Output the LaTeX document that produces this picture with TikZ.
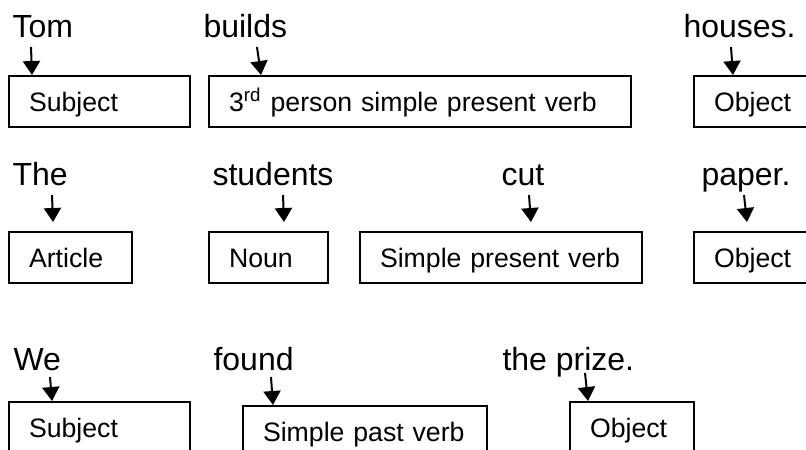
\documentclass[tikz,border=0pt]{standalone}
\usepackage{fontspec}
\setmainfont{Liberation Sans}
\usetikzlibrary{arrows.meta, calc}

\begin{document}
\begin{tikzpicture}[
  x=0.375pt, y=-0.375pt,
  word/.style={anchor=base west, inner sep=0pt, font=\fontsize{12}{14}\selectfont},
  tag/.style={draw, line width=0.75pt, anchor=north west, inner xsep=7.5pt, inner ysep=0pt,
    minimum height=19.125pt, text height=7.2pt, text depth=0pt, align=left,
    font=\fontsize{10}{12}\selectfont},
  arrow/.style={-{Triangle[length=5.25pt, width=6.4pt]}, line width=0.75pt}
]
\useasboundingbox (0,0) rectangle (806,449);
\clip (0,0) rectangle (806,449);

% Tom builds houses.
\node[word] (tom) at (12,37) {Tom};
\node[word] (builds) at (203,37) {builds};
\node[word] (houses) at (683,37) {houses.};

\node[tag, text width=52.875pt] (subj1) at (8,75) {Subject};
\node[tag, text width=143.25pt] (verb1) at (208,75) {3\textsuperscript{rd} person simple present verb};
\node[tag, text width=31.5pt] (obj1) at (693,75) {Object};

\coordinate (tom-a) at (31,47);
\coordinate (builds-a) at (257,47);
\coordinate (houses-a) at (731,47);
\draw[arrow] (tom-a) -- ($(subj1.north west)+(24,0)$);
\draw[arrow] (builds-a) -- ($(verb1.north west)+(53,0)$);
\draw[arrow] (houses-a) -- ($(obj1.north west)+(40,0)$);

% The students cut paper.
\node[word] (the) at (12,185) {The};
\node[word] (students) at (212,185) {students};
\node[word] (cut) at (501,185) {cut};
\node[word] (paper) at (701,185) {paper.};

\node[tag, text width=31.125pt] (art2) at (8,231) {Article};
\node[tag, text width=29.625pt] (noun2) at (208,231) {Noun};
\node[tag, text width=90.75pt] (verb2) at (359,231) {Simple present verb};
\node[tag, text width=31.5pt] (obj2) at (693,231) {Object};

\coordinate (the-a) at (52,195);
\coordinate (students-a) at (283,195);
\coordinate (cut-a) at (529,195);
\coordinate (paper-a) at (744,195);
\draw[arrow] (the-a) -- ($(art2.north west)+(45,-9)$);
\draw[arrow] (students-a) -- ($(noun2.north west)+(76,-9)$);
\draw[arrow] (cut-a) -- ($(verb2.north west)+(172,-9)$);
\draw[arrow] (paper-a) -- ($(obj2.north west)+(54,-9)$);

% We found the prize.
\node[word] (we) at (13,370) {We};
\node[word] (found) at (213,370) {found};
\node[word] (prize) at (502,370) {the prize.};

\node[tag, text width=52.875pt] (subj3) at (8,401) {Subject};
\node[tag, text width=76.5pt] (verb3) at (242,405) {Simple past verb};
\node[tag, text width=31.5pt] (obj3) at (569,401) {Object};

\coordinate (we-a) at (50,377);
\coordinate (found-a) at (271,377);
\coordinate (prize-a) at (585,373);
\draw[arrow] (we-a) -- ($(subj3.north west)+(44,0)$);
\draw[arrow] (found-a) -- ($(verb3.north west)+(31,0)$);
\draw[arrow] (prize-a) -- ($(obj3.north west)+(19,0)$);

\end{tikzpicture}
\end{document}
